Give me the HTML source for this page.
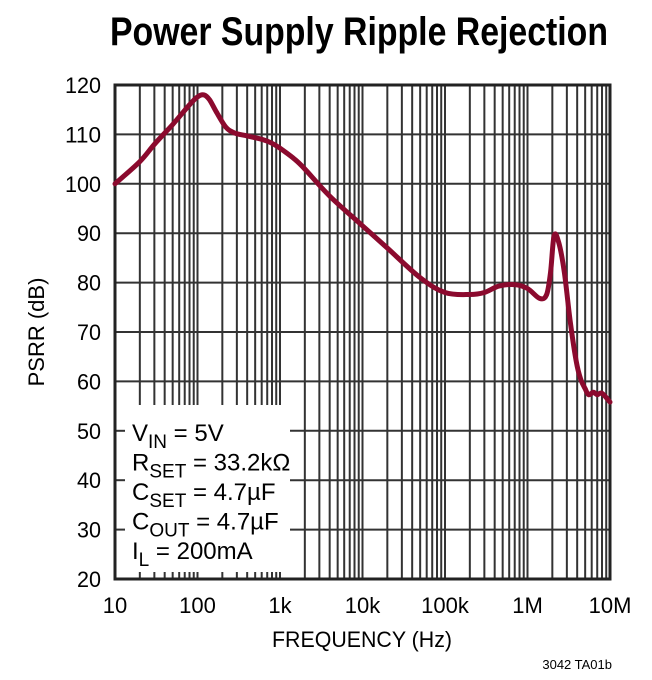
<!DOCTYPE html>
<html><head><meta charset="utf-8"><style>
html,body{margin:0;padding:0;background:#fff;}
svg{display:block;font-family:"Liberation Sans Narrow","Liberation Sans",sans-serif;}
</style></head><body>
<svg id="s" width="652" height="680" viewBox="0 0 652 680"></svg>
<script>
const L=115,R=610,T=85,B=579;
const X=f=>L+(Math.log10(f)-1)*(R-L)/6;
const Y=d=>B-(d-20)*(B-T)/100;
let h='';
h+='<text x="359" y="45" text-anchor="middle" font-size="40" font-weight="bold" textLength="498" lengthAdjust="spacingAndGlyphs">Power Supply Ripple Rejection</text>';
for(let e=1;e<7;e++)for(let m=1;m<10;m++){const x=X(m*Math.pow(10,e));if(x>R+0.5)continue;
 const inBox=x<302;
 if(inBox){h+=`<line x1="${x}" y1="${T}" x2="${x}" y2="405" stroke="#333" stroke-width="2"/><line x1="${x}" y1="572" x2="${x}" y2="${B}" stroke="#333" stroke-width="2"/>`;}
 else h+=`<line x1="${x}" y1="${T}" x2="${x}" y2="${B}" stroke="#333" stroke-width="2"/>`;}
for(let d=30;d<120;d+=10){const y=Y(d);
 if(d<=50){h+=`<line x1="${L}" y1="${y}" x2="125" y2="${y}" stroke="#333" stroke-width="2"/><line x1="290" y1="${y}" x2="${R}" y2="${y}" stroke="#333" stroke-width="2"/>`;}
 else h+=`<line x1="${L}" y1="${y}" x2="${R}" y2="${y}" stroke="#333" stroke-width="2"/>`;}
h+=`<rect x="${L}" y="${T}" width="${R-L}" height="${B-T}" fill="none" stroke="#222" stroke-width="3"/>`;
for(let d=20;d<=120;d+=10)h+=`<text x="101" y="${Y(d)+8}" text-anchor="end" font-size="22" textLength="${d<100?24:36}" lengthAdjust="spacingAndGlyphs">${d}</text>`;
const xl=['10','100','1k','10k','100k','1M','10M'];
xl.forEach((t,i)=>h+=`<text x="${L+i*(R-L)/6}" y="613" text-anchor="middle" font-size="22">${t}</text>`);
h+='<text x="362" y="647" text-anchor="middle" font-size="22" textLength="180" lengthAdjust="spacingAndGlyphs">FREQUENCY (Hz)</text>';
h+='<text transform="translate(44,332) rotate(-90)" text-anchor="middle" font-size="22">PSRR (dB)</text>';
h+='<text x="612" y="669" text-anchor="end" font-size="13">3042 TA01b</text>';
const lg=[['V','IN',' = 5V'],['R','SET',' = 33.2kΩ'],['C','SET',' = 4.7µF'],['C','OUT',' = 4.7µF'],['I','L',' = 200mA']];
lg.forEach((r,i)=>{const y=441+i*29.5;h+=`<text x="132" y="${y}" font-size="24">${r[0]}<tspan font-size="19" dy="7">${r[1]}</tspan><tspan dy="-7">${r[2]}</tspan></text>`;});
const p=[[10,100],[20,104.5],[30,108],[50,112],[80,116],[100,117.6],[120,118],[140,117],[170,114.5],[220,111.5],[280,110.3],[400,109.7],[600,109],[800,108.2],[1000,107.2],[1500,105],[2000,103],[4000,97.5],[10000,91.5],[20000,87],[50000,81],[100000,78],[200000,77.6],[300000,78],[450000,79.3],[700000,79.6],[1000000,78.8],[1400000,76.8],[1700000,77.5],[1900000,82],[2100000,89.5],[2400000,88],[2800000,82],[3300000,72],[3900000,64],[4400000,60.5],[5000000,58.5],[5500000,57.3],[6300000,57.8],[7000000,57.3],[8000000,57.6],[10000000,55.8]];
const P=p.map(q=>[X(q[0]),Y(q[1])]);
let d='M'+P[0][0].toFixed(1)+' '+P[0][1].toFixed(1);
for(let i=0;i<P.length-1;i++){const p0=P[Math.max(0,i-1)],p1=P[i],p2=P[i+1],p3=P[Math.min(P.length-1,i+2)];
 const c1=[p1[0]+(p2[0]-p0[0])/6,p1[1]+(p2[1]-p0[1])/6],c2=[p2[0]-(p3[0]-p1[0])/6,p2[1]-(p3[1]-p1[1])/6];
 d+=`C${c1[0].toFixed(1)} ${c1[1].toFixed(1)} ${c2[0].toFixed(1)} ${c2[1].toFixed(1)} ${p2[0].toFixed(1)} ${p2[1].toFixed(1)}`;}
h+=`<path d="${d}" fill="none" stroke="#8b0a2e" stroke-width="5" stroke-linejoin="round" stroke-linecap="round"/>`;
document.getElementById('s').innerHTML=h;
</script>
</body></html>
